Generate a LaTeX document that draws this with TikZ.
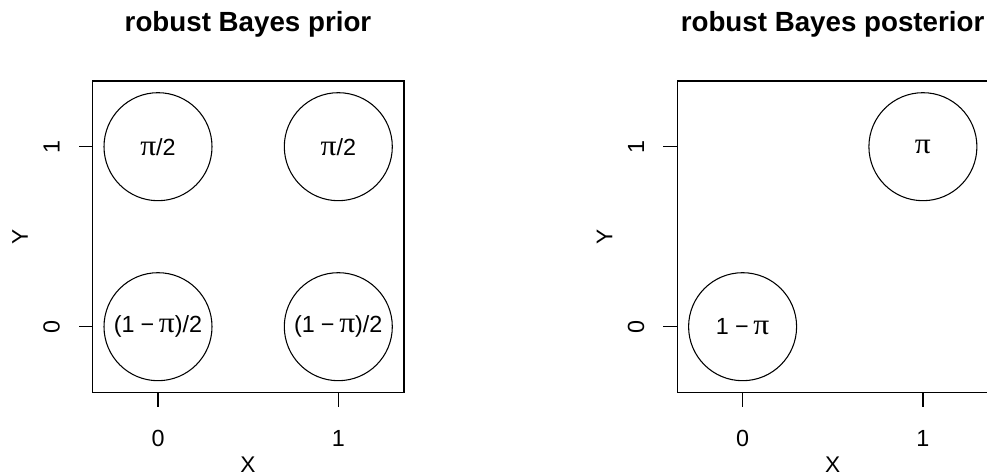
\documentclass[tikz,border=0pt]{standalone}
\usepackage{fontspec}
\setmainfont{Liberation Sans}
\newfontfamily\symf{Liberation Serif}
\newcommand{\PI}{\scalebox{1.35}[1.25]{\symf π}}
\newcommand{\MIN}{\hspace{0.26em}−\hspace{0.2em}}
\tikzset{
  frame/.style={line width=1pt},
  tick/.style={line width=1pt},
  blob/.style={circle, draw, line width=0.8pt, minimum size=81pt, inner sep=0pt, font=\fontsize{17.5}{20}\selectfont},
  ticklab/.style={font=\fontsize{17.5}{20}\selectfont, inner sep=0pt},
  rticklab/.style={font=\fontsize{17.5}{20}\selectfont, inner sep=0pt, rotate=90},
  axlab/.style={font=\fontsize{17}{20}\selectfont, inner sep=0pt},
  ttl/.style={font=\fontsize{20.8}{24}\selectfont\bfseries, inner sep=0pt}
}
\begin{document}
\begin{tikzpicture}[x=0.75pt,y=-0.75pt]
\clip (0,0) rectangle (987,473);
\fill[white] (0,0) rectangle (987,473);
% ---------- left panel ----------
\begin{scope}
  \draw[frame] (92.7,81) rectangle (404,392.7);
  \node[ttl] (tL) at (248,24) {robust Bayes prior};
  \coordinate (xLa) at (158,392.7);  \coordinate (xLb) at (158,407);
  \coordinate (xLc) at (338.3,392.7); \coordinate (xLd) at (338.3,407);
  \coordinate (yLa) at (92.7,146.7); \coordinate (yLb) at (78.5,146.7);
  \coordinate (yLc) at (92.7,326.7); \coordinate (yLd) at (78.5,326.7);
  \draw[tick] (xLa) -- (xLb); \draw[tick] (xLc) -- (xLd);
  \draw[tick] (yLa) -- (yLb); \draw[tick] (yLc) -- (yLd);
  \node[ticklab] (xL0) at (158,438) {0};
  \node[ticklab] (xL1) at (338.3,438) {1};
  \node[rticklab] (yL1) at (51.5,146.7) {1};
  \node[rticklab] (yL0) at (51.5,326.7) {0};
  \node[axlab] (XL) at (248,464.3) {X};
  \node[axlab, rotate=90] (YL) at (20,237) {Y};
  \node[blob] (cL01) at (158,146.7) {\PI/2};
  \node[blob] (cL11) at (338.3,146.7) {\PI/2};
  \node[blob] (cL00) at (158,326.7) {(1\MIN\PI)/2};
  \node[blob] (cL10) at (338.3,326.7) {(1\MIN\PI)/2};
\end{scope}
% ---------- right panel ----------
\begin{scope}[shift={(584.6,0)}]
  \draw[frame] (92.7,81) rectangle (404,392.7);
  \node[ttl] (tR) at (248,24) {robust Bayes posterior};
  \coordinate (xRa) at (158,392.7);  \coordinate (xRb) at (158,407);
  \coordinate (xRc) at (338.3,392.7); \coordinate (xRd) at (338.3,407);
  \coordinate (yRa) at (92.7,146.7); \coordinate (yRb) at (78.5,146.7);
  \coordinate (yRc) at (92.7,326.7); \coordinate (yRd) at (78.5,326.7);
  \draw[tick] (xRa) -- (xRb); \draw[tick] (xRc) -- (xRd);
  \draw[tick] (yRa) -- (yRb); \draw[tick] (yRc) -- (yRd);
  \node[ticklab] (xR0) at (158,438) {0};
  \node[ticklab] (xR1) at (338.3,438) {1};
  \node[rticklab] (yR1) at (51.5,146.7) {1};
  \node[rticklab] (yR0) at (51.5,326.7) {0};
  \node[axlab] (XR) at (248,464.3) {X};
  \node[axlab, rotate=90] (YR) at (20,237) {Y};
  \node[blob] (cR11) at (338.3,146.7) {\PI};
  \node[blob] (cR00) at (158,326.7) {1\MIN\PI};
\end{scope}
\end{tikzpicture}
\end{document}
